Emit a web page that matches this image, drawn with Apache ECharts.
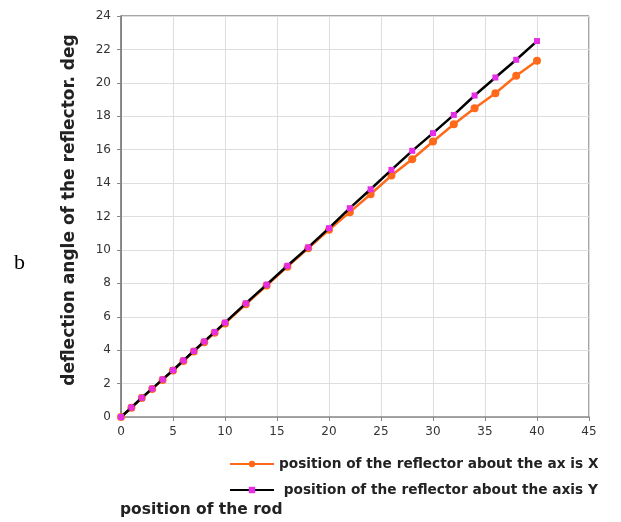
<!DOCTYPE html>
<html lang="en">
<head>
<meta charset="UTF-8">
<title>deflection angle of the reflector</title>
<script src="https://cdn.jsdelivr.net/npm/echarts@6/dist/echarts.min.js"></script>
<style>
    html, body { margin: 0; padding: 0; background: #fff; }
    #container { width: 621px; height: 522px; }
</style>
</head>
<body>
<div id="container"></div>
<script type="text/javascript">
    // rod position
    const rodPos = [0, 1, 2, 3, 4, 5, 6, 7, 8, 9, 10, 12, 14, 16, 18, 20, 22, 24, 26, 28, 30, 32, 34, 36, 38, 40];
    // reflector angle about axis X
    const angleX = [0, 0.55, 1.13, 1.68, 2.22, 2.78, 3.35, 3.92, 4.48, 5.04, 5.6, 6.75, 7.87, 9.0, 10.1, 11.2, 12.26, 13.33, 14.45, 15.43, 16.49, 17.52, 18.48, 19.38, 20.42, 21.32];
    // reflector angle about axis Y
    const angleY = [0, 0.57, 1.15, 1.7, 2.25, 2.8, 3.38, 3.95, 4.52, 5.08, 5.65, 6.8, 7.92, 9.05, 10.15, 11.3, 12.5, 13.63, 14.79, 15.93, 16.99, 18.08, 19.24, 20.32, 21.38, 22.5];

    const nameX = 'position of the reflector about the ax is X';
    const nameY = ' position of the reflector about the axis Y';

    const dom = document.getElementById('container');
    const myChart = echarts.init(dom, null, { renderer: 'canvas' });

    const font = '"DejaVu Sans", Arial, sans-serif';

    const option = {
        animation: false,
        textStyle: { fontFamily: font },
        grid: { left: 121, right: 32, top: 16, bottom: 105 },
        legend: {
            orient: 'vertical',
            left: 224,
            top: 452,
            itemGap: 12,
            itemWidth: 44,
            itemHeight: 8,
            textStyle: { fontSize: 13.7, fontWeight: 'bold', color: '#222', fontFamily: font },
            data: [nameX, nameY]
        },
        xAxis: {
            type: 'value',
            min: 0,
            max: 45,
            interval: 5,
            axisLine: { show: true, lineStyle: { color: '#888', width: 1.5 } },
            axisTick: { show: true, length: 4, lineStyle: { color: '#888' } },
            axisLabel: { color: '#333', fontSize: 12, margin: 9 },
            splitLine: { show: true, lineStyle: { color: '#dedede' } }
        },
        yAxis: {
            type: 'value',
            min: 0,
            max: 24,
            interval: 2,
            axisLine: { show: true, lineStyle: { color: '#666', width: 1.5 } },
            axisTick: { show: true, length: 4, lineStyle: { color: '#888' } },
            axisLabel: { color: '#333', fontSize: 12, margin: 10 },
            splitLine: { show: true, lineStyle: { color: '#dedede' } }
        },
        graphic: [
            // frame top and right
            { type: 'line', shape: { x1: 121, y1: 16, x2: 589, y2: 16 }, style: { stroke: '#888', lineWidth: 1.5 } },
            { type: 'line', shape: { x1: 589, y1: 16, x2: 589, y2: 417 }, style: { stroke: '#888', lineWidth: 1.5 } },
            {
                type: 'text', x: 70, y: 210, rotation: Math.PI / 2,
                style: {
                    text: 'deflection angle of the reflector. deg',
                    font: 'bold 17px "DejaVu Sans", Arial, sans-serif',
                    fill: '#222', align: 'center', verticalAlign: 'middle'
                }
            },
            { type: 'text', left: 14, top: 252, style: { text: 'b', font: '22px "Liberation Serif", serif', fill: '#000' } },
            { type: 'text', left: 120, top: 502, style: { text: 'position of the rod', font: 'bold 15.5px "DejaVu Sans", Arial, sans-serif', fill: '#222' } }
        ],
        series: [
            {
                name: nameX,
                type: 'line',
                data: rodPos.map((x, i) => [x, angleX[i]]),
                symbol: 'circle',
                symbolSize: 8,
                lineStyle: { color: '#ff6a1a', width: 2.5 },
                itemStyle: { color: '#ff6a1a' },
                z: 2
            },
            {
                name: nameY,
                type: 'line',
                data: rodPos.map((x, i) => [x, angleY[i]]),
                symbol: 'rect',
                symbolSize: 6,
                lineStyle: { color: '#000', width: 2.5 },
                itemStyle: { color: '#e62ee6' },
                z: 3
            }
        ]
    };

    myChart.setOption(option);
    window.addEventListener('resize', myChart.resize);
</script>
</body>
</html>
